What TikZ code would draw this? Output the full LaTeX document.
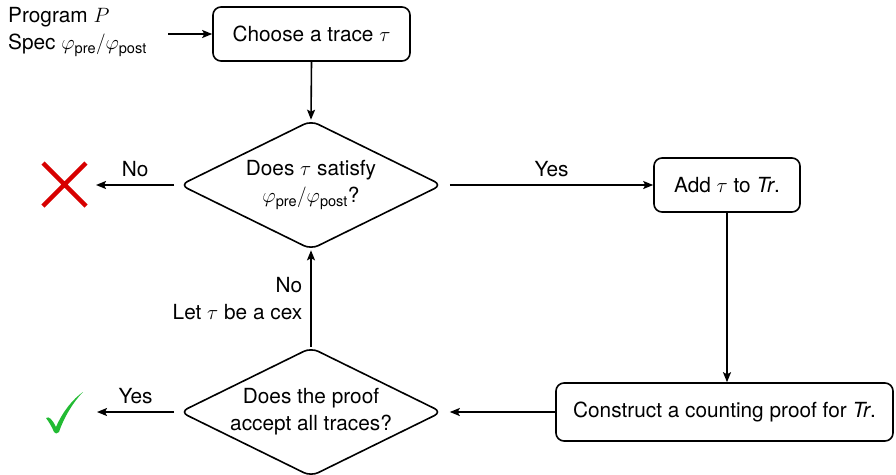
\documentclass[tikz,border=0pt]{standalone}
\usepackage{amsmath}
\usepackage{fontspec}
\setmainfont{TeX Gyre Heros}
\usetikzlibrary{shapes.geometric,arrows.meta}
\definecolor{checkgreen}{RGB}{34,187,51}
\definecolor{crossred}{RGB}{215,0,0}
\tikzset{
  box/.style={draw,line width=1.6pt,rounded corners=8pt,align=center,inner sep=0pt},
  dia/.style={draw,diamond,line width=1.6pt,rounded corners=8pt,align=center,inner sep=0pt,minimum width=262pt,minimum height=129pt,aspect=2},
  conn/.style={line width=1.6pt,-{Stealth[length=10pt,width=8pt,inset=2pt]}},
  lbl/.style={inner sep=0pt,align=center},
}
\newcommand{\pp}{\ensuremath{\varphi_{\text{pre}}/\varphi_{\text{post}}}}
\begin{document}
\begin{tikzpicture}[x=1pt,y=-1pt,font=\fontsize{20.8}{27}\selectfont]
\useasboundingbox (0,0) rectangle (896,474);
\node[box,minimum width=197pt,minimum height=54pt] (choose) at (311.5,34) {Choose a trace $\tau$};
\node[lbl,align=left,anchor=west] (input) at (8,32) {Program $P$\\Spec \pp};
\node[dia] (sat) at (311,185) {Does $\tau$ satisfy\\ \pp?};
\node[box,minimum width=146pt,minimum height=54pt] (add) at (727,185) {Add $\tau$ to \textit{Tr}.};
\node[box,minimum width=337pt,minimum height=58pt] (cons) at (724.5,412) {Construct a counting proof for \textit{Tr}.};
\node[dia] (acc) at (311,412) {Does the proof\\accept all traces?};
\draw[conn] (168,34) -- (choose.west);
\draw[conn] (choose.south) -- (sat.north);
\draw[conn] (sat.west) ++(-5,0) -- (96,185) node[lbl,midway,above=7pt] (no1) {No};
\draw[conn] (sat.east) ++(7,0) -- (add.west) node[lbl,midway,above=7pt] (yes1) {Yes};
\draw[conn] (add.south) -- (add.south |- cons.north);
\draw[conn] (cons.west) -- ([xshift=7pt]acc.east);
\draw[conn] (acc.north) -- (sat.south) node[lbl,midway,left=8pt,align=right] (cex) {No\\Let $\tau$ be a cex};
\draw[conn] (acc.west) ++(-5,0) -- (97,412) node[lbl,midway,above=7pt] (yes2) {Yes};
% red cross
\draw[crossred,line width=4.5pt] (43,163) -- (86,206) (86,163) -- (43,206);
% green check
\fill[checkgreen] (46,418) .. controls (49,416) and (52,419) .. (56,427)
  .. controls (63,411) and (73,399) .. (83,392)
  .. controls (74,401) and (64,417) .. (59,432)
  .. controls (57,434) and (55,434) .. (54,432)
  .. controls (52,427) and (49,422) .. (46,418) -- cycle;
\end{tikzpicture}
\end{document}
